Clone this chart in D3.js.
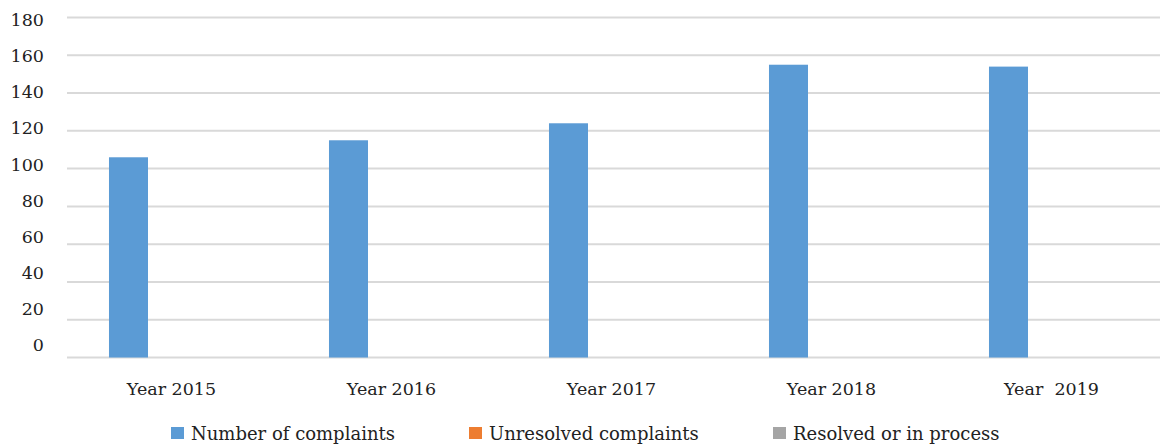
<!DOCTYPE html>
<html>
<head>
<meta charset="utf-8">
<script src="https://cdn.jsdelivr.net/npm/d3@7"></script>
<style>
  body{margin:0;background:#fff;}
  svg{display:block;font-family:"DejaVu Serif","Liberation Serif",serif;}
</style>
</head>
<body>
<div id="chart"></div>
<script>
const years = ["Year 2015","Year 2016","Year 2017","Year 2018","Year  2019"];
const seriesNames = ["Number of complaints","Unresolved complaints","Resolved or in process"];
const complaints = [106,115,124,155,154];
const unresolved = [0,0,0,0,0];
const resolved = [0,0,0,0,0];
const yTicks = [0,20,40,60,80,100,120,140,160,180];
const colors = ["#5b9bd5","#ed7d31","#a5a5a5"];

const w = 1160, h = 444;
const svg = d3.select("#chart").append("svg")
  .attr("width",w).attr("height",h);

const x0 = d3.scaleBand().domain(years).range([57.5,1157.5]).paddingInner(0.468).paddingOuter(0.234);
const x1 = d3.scaleBand().domain(seriesNames).range([0,x0.bandwidth()]);
const y = d3.scaleLinear().domain([0,180]).range([357.5,17.5]);
// tick labels sit a little off the gridlines in the original
const yLab = d3.scaleLinear().domain([0,180]).range([345,20]);

svg.append("g").selectAll("line")
  .data(yTicks).enter().append("line")
  .attr("x1",67).attr("x2",w)
  .attr("y1",d=>y(d)).attr("y2",d=>y(d))
  .attr("stroke","#d9d9d9").attr("stroke-width",2);

svg.append("g").selectAll("text")
  .data(yTicks).enter().append("text")
  .attr("x",44).attr("y",d=>yLab(d))
  .attr("dy","0.35em")
  .attr("text-anchor","end")
  .attr("font-size",17.5).attr("fill","#222")
  .text(d=>d);

const rows = years.map((yr,i)=>({yr, vals:[complaints[i],unresolved[i],resolved[i]]}));

const grp = svg.append("g").selectAll("g")
  .data(rows).enter().append("g")
  .attr("transform",d=>"translate("+x0(d.yr)+",0)");

grp.selectAll("rect")
  .data(d=>d.vals.map((v,k)=>({name:seriesNames[k],v,k})))
  .enter().append("rect")
  .attr("x",d=>x1(d.name))
  .attr("width",x1.bandwidth())
  .attr("y",d=>y(d.v))
  .attr("height",d=>y(0)-y(d.v))
  .attr("fill",d=>colors[d.k]);

svg.append("g").selectAll("text")
  .data(years).enter().append("text")
  .attr("x",d=>x0(d)+x0.bandwidth()/2+4)
  .attr("y",395)
  .attr("text-anchor","middle")
  .attr("font-size",17.5).attr("fill","#222")
  .style("white-space","pre")
  .attr("xml:space","preserve")
  .text(d=>d);

const legX = [171,469,773];
const leg = svg.append("g").selectAll("g")
  .data(seriesNames).enter().append("g")
  .attr("transform",(d,i)=>"translate("+legX[i]+",427)");
leg.append("rect").attr("width",13).attr("height",12).attr("fill",(d,i)=>colors[i]);
leg.append("text").attr("x",20).attr("y",12.5)
  .attr("font-size",18).attr("fill","#222")
  .text(d=>d);
</script>
</body>
</html>
